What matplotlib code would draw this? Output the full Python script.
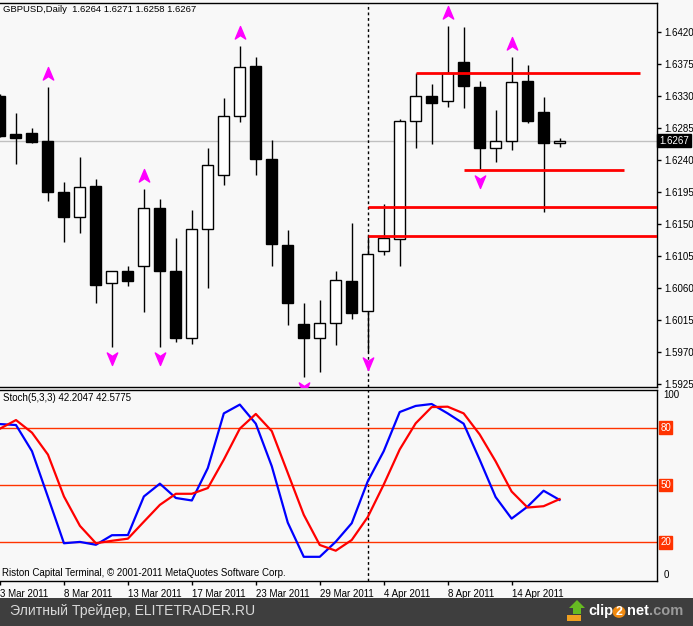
import matplotlib
matplotlib.use("Agg")
import matplotlib.pyplot as plt
from matplotlib.path import Path
from matplotlib.patches import Rectangle, Polygon, Circle
import matplotlib.transforms as mtransforms

plt.rcParams['font.family'] = ['Liberation Sans', 'DejaVu Sans']

# ---------------- data ----------------
bars = list(range(-1, 35))
opens = [1.6330, 1.6276, 1.6278, 1.6266, 1.6195, 1.6159, 1.6203, 1.6066, 1.6084, 1.6090,
         1.6172, 1.6084, 1.5990, 1.6142, 1.6218, 1.6301, 1.6372, 1.6241, 1.6120, 1.6009,
         1.5990, 1.6010, 1.6069, 1.6027, 1.6111, 1.6128, 1.6294, 1.6329, 1.6322, 1.6377,
         1.6342, 1.6256, 1.6267, 1.6351, 1.6307, 1.6264]
highs = [1.6332, 1.6306, 1.6284, 1.6342, 1.6209, 1.6244, 1.6213, 1.6084, 1.6091, 1.6199,
         1.6185, 1.6130, 1.6169, 1.6257, 1.6327, 1.6400, 1.6384, 1.6268, 1.6141, 1.6038,
         1.6043, 1.6084, 1.6151, 1.6133, 1.6178, 1.6297, 1.6362, 1.6347, 1.6428, 1.6427,
         1.6351, 1.6310, 1.6384, 1.6373, 1.6328, 1.6271]
lows = [1.6272, 1.6234, 1.6264, 1.6182, 1.6125, 1.6137, 1.6038, 1.5976, 1.6062, 1.6026,
        1.5977, 1.5984, 1.5981, 1.6059, 1.6204, 1.6293, 1.6218, 1.6091, 1.6007, 1.5935,
        1.5942, 1.5979, 1.6016, 1.5970, 1.6106, 1.6090, 1.6256, 1.6262, 1.6314, 1.6313,
        1.6225, 1.6237, 1.6254, 1.6292, 1.6166, 1.6258]
closes = [1.6274, 1.6270, 1.6265, 1.6194, 1.6160, 1.6202, 1.6064, 1.6084, 1.6069, 1.6172,
          1.6084, 1.5990, 1.6142, 1.6233, 1.6301, 1.6371, 1.6241, 1.6121, 1.6039, 1.5990,
          1.6010, 1.6071, 1.6025, 1.6108, 1.6130, 1.6294, 1.6329, 1.6320, 1.6362, 1.6343,
          1.6257, 1.6267, 1.6350, 1.6294, 1.6263, 1.6267]

up_arrow_bars = [2, 8, 14, 27, 31]
down_arrow_bars = [6, 9, 18, 22, 29]

# horizontal levels: (price, start bar, end bar); None = to right edge
level_prices = [1.6362, 1.6225, 1.6174, 1.6133]
level_starts = [25, 28, 22, 22]
level_ends = [39, 38, None, None]

marker_bar = 22

price_ticks = [1.5925, 1.5970, 1.6015, 1.6060, 1.6105, 1.6150, 1.6195,
               1.6240, 1.6285, 1.6330, 1.6375, 1.6420]
last_price = 1.6267

stoch_main = [81.9, 81.4, 67.7, 43.7, 19.5, 20.2, 18.7, 23.7, 23.8, 44.0,
              50.7, 43.2, 41.9, 58.9, 87.5, 92.1, 82.1, 59.8, 30.3, 12.4,
              12.4, 20.3, 30.0, 51.9, 67.7, 88.2, 91.4, 92.4, 87.5, 82.1,
              63.3, 43.7, 32.4, 38.7, 47.0, 42.2]
stoch_signal = [79.5, 84.0, 77.4, 65.9, 44.0, 28.6, 19.5, 20.8, 21.9, 30.8,
                39.6, 45.4, 45.4, 48.4, 63.3, 79.5, 87.2, 78.2, 56.3, 34.4,
                18.6, 15.6, 21.2, 33.2, 50.2, 68.6, 82.3, 90.8, 91.0, 87.5,
                76.5, 62.4, 46.6, 38.2, 38.9, 42.6]
stoch_levels = [20, 50, 80]

tick_bars = [-1, 3, 7, 11, 15, 19, 23, 27, 31]
tick_labels = ['3 Mar 2011', '8 Mar 2011', '13 Mar 2011', '17 Mar 2011', '23 Mar 2011',
               '29 Mar 2011', '4 Apr 2011', '8 Apr 2011', '14 Apr 2011']

header = 'GBPUSD,Daily  1.6264 1.6271 1.6258 1.6267'
stoch_title = 'Stoch(5,3,3) 42.2047 42.5775'
copyright_txt = 'Riston Capital Terminal, © 2001-2011 MetaQuotes Software Corp.'
footer = 'Элитный Трейдер, ELITETRADER.RU'

# ---------------- layout ----------------
W, H = 693, 626
BG = '#F8F8F8'
fig = plt.figure(figsize=(W / 100, H / 100), dpi=100, facecolor=BG)

def fx(px):
    return px / W

def fy(py):
    return (H - py) / H

ax1 = fig.add_axes([0, fy(387), fx(657), (387 - 3) / H], facecolor=BG)
ax2 = fig.add_axes([0, fy(580.5), fx(657), (580.5 - 389.5) / H], facecolor=BG)

xl = (-15.5 / 16, (657 - 15.5) / 16)
for ax in (ax1, ax2):
    ax.set_xlim(*xl)
    ax.spines['left'].set_visible(False)
    for s in ('top', 'right', 'bottom'):
        ax.spines[s].set_linewidth(1.0)
        ax.spines[s].set_color('black')
ax1.set_ylim(1.59204, 1.64604)
ax2.set_ylim(0, 100)

FS = 7.0

# ---------------- candles ----------------
ax1.axhline(last_price, color='#C0C0C0', lw=1.0, zorder=0)
ax1.vlines(bars, lows, highs, color='black', lw=1.0, zorder=2)
for b, o, c in zip(bars, opens, closes):
    bottom = min(o, c)
    h = abs(c - o)
    if h < 0.00003:
        h = 0.00003
    fc = 'black' if c < o else 'white'
    ax1.bar(b, h, bottom=bottom, width=0.66, color=fc, edgecolor='black',
            linewidth=1.0, zorder=3)

# levels
for p, s, e in zip(level_prices, level_starts, level_ends):
    ax1.hlines(p, s, e if e is not None else xl[1], color='#FF0000', lw=2.0, zorder=4)

# arrows
up_path = Path([(0, 1), (0.75, -0.8), (0, -0.3), (-0.75, -0.8), (0, 1)],
               [Path.MOVETO, Path.LINETO, Path.LINETO, Path.LINETO, Path.CLOSEPOLY])
down_path = Path([(0, -1), (0.75, 0.8), (0, 0.3), (-0.75, 0.8), (0, -1)],
                 [Path.MOVETO, Path.LINETO, Path.LINETO, Path.LINETO, Path.CLOSEPOLY])
tr_up = mtransforms.offset_copy(ax1.transData, fig=fig, y=13, units='dots')
tr_dn = mtransforms.offset_copy(ax1.transData, fig=fig, y=-11, units='dots')
ax1.plot(up_arrow_bars, [highs[bars.index(b)] for b in up_arrow_bars], ls='none',
         marker=up_path, ms=10, color='#FF00FF', mec='#FF00FF', transform=tr_up, zorder=5)
ax1.plot(down_arrow_bars, [lows[bars.index(b)] for b in down_arrow_bars], ls='none',
         marker=down_path, ms=10, color='#FF00FF', mec='#FF00FF', transform=tr_dn, zorder=5)

# dashed marker line
for ax in (ax1, ax2):
    ax.axvline(marker_bar, color='black', lw=1.0, ls=(0, (2, 2)), zorder=1)

# price axis
ax1.set_xticks([])
ax1.yaxis.tick_right()
ax1.set_yticks(price_ticks)
ax1.set_yticklabels([f'{t:.4f}' for t in price_ticks])
ax1.tick_params(axis='y', direction='out', length=3, width=1, pad=2, labelsize=FS)
ax1.text(1.003, last_price, f'{last_price:.4f}', transform=ax1.get_yaxis_transform(),
         ha='left', va='center', fontsize=FS, color='white', zorder=10,
         bbox=dict(boxstyle='square,pad=0.2', fc='black', ec='black'), clip_on=False)

ax1.text(3 / 657, 1 - 7 / 384, header, transform=ax1.transAxes, ha='left', va='center',
         fontsize=6.8, color='black')

# ---------------- stochastic ----------------
for lv in stoch_levels:
    ax2.axhline(lv, color='#FF3300', lw=1.0, zorder=1)
ax2.plot(bars, stoch_main, color='#0000FF', lw=1.6, zorder=3)
ax2.plot(bars, stoch_signal, color='#FF0000', lw=1.6, zorder=4)

ax2.yaxis.tick_right()
ax2.set_yticks([])
ax2.text(1.01, 99.5, '100', transform=ax2.get_yaxis_transform(), ha='left', va='top',
         fontsize=FS, clip_on=False)
ax2.text(1.01, 0.5, '0', transform=ax2.get_yaxis_transform(), ha='left', va='bottom',
         fontsize=FS, clip_on=False)
for lv in stoch_levels:
    ax2.text(1.005, lv, str(lv), transform=ax2.get_yaxis_transform(), ha='left',
             va='center', fontsize=FS, color='white', clip_on=False,
             bbox=dict(boxstyle='square,pad=0.15', fc='#FF3300', ec='#FF3300'))

ax2.set_xticks(tick_bars)
ax2.set_xticklabels(tick_labels)
for lab in ax2.get_xticklabels():
    lab.set_ha('left')
ax2.tick_params(axis='x', direction='out', length=3, width=1, pad=3, labelsize=FS)

ax2.text(3 / 657, 1 - 8.5 / 191, stoch_title, transform=ax2.transAxes, ha='left',
         va='center', fontsize=FS)
ax2.text(2 / 657, 7.5 / 191, copyright_txt, transform=ax2.transAxes, ha='left',
         va='center', fontsize=FS)

# ---------------- footer strip ----------------
fig.patches.append(Rectangle((0, 0), 1, fy(597.5), transform=fig.transFigure,
                             fc='#3E3E3E', ec='none', zorder=0))
fig.text(fx(10), fy(611), footer, ha='left', va='center', fontsize=10.1, color='#D8D8D8')

# clip2net logo
fig.patches.append(Polygon([(fx(577), fy(600)), (fx(585), fy(608)), (fx(581), fy(608)),
                            (fx(581), fy(614)), (fx(573), fy(614)), (fx(573), fy(608)),
                            (fx(569), fy(608))], closed=True, transform=fig.transFigure,
                           fc='#66BB22', ec='none'))
fig.patches.append(Rectangle((fx(567), fy(621)), fx(14), 6 / H, transform=fig.transFigure,
                             fc='#F0A020', ec='none'))
fig.text(fx(588), fy(611), 'clip', ha='left', va='center', fontsize=10.5,
         fontweight='bold', color='white')
fig.patches.append(Circle((fx(619), fy(612)), 6.5 / W, transform=fig.transFigure,
                          fc='#F08A10', ec='none'))
fig.text(fx(619), fy(612), '2', ha='center', va='center', fontsize=9,
         fontweight='bold', color='white')
fig.text(fx(626.5), fy(611), 'net', ha='left', va='center', fontsize=10.5,
         fontweight='bold', color='white')
fig.text(fx(649), fy(611), '.com', ha='left', va='center', fontsize=10.5,
         fontweight='bold', color='#9A9A9A')

fig.savefig('out.png', dpi=100, facecolor=BG)
